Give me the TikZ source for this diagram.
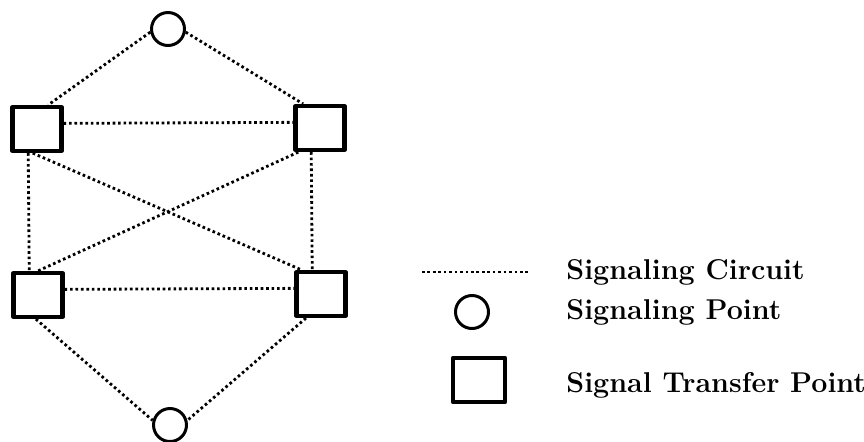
\documentclass[tikz,border=0pt]{standalone}
\begin{document}
\begin{tikzpicture}[x=0.02cm, y=-0.02cm, line join=round,
		stp/.style={draw, rectangle, line width=2.4pt, minimum width=0.98cm, minimum height=0.88cm, inner sep=0pt},
		sp/.style={draw, circle, line width=1.7pt, minimum size=0.66cm, inner sep=0pt},
		circuit/.style={line width=1.6pt, dash pattern=on 1.5pt off 1.6pt},
		lbl/.style={anchor=west, inner sep=0pt, font=\fontsize{16.3}{19}\selectfont\bfseries}]
				\useasboundingbox (0,0) rectangle (864,441);
				\node[sp] (P1) at (168,29) {};
				\node[sp] (P2) at (170,425) {};
				\node[stp] (S1) at (37,129) {};
				\node[stp] (S2) at (320,128) {};
				\node[stp] (S3) at (38,295) {};
				\node[stp] (S4) at (321,294) {};
				\draw[circuit] (P1.190)--(S1.65);
				\draw[circuit] (P1.-10)--(S2.125);
				\draw[circuit] (S1.12)--(S2.168);
				\draw[circuit] (S3.12)--(S4.168);
				\draw[circuit] (S1.-110)--(S3.110);
				\draw[circuit] (S2.-110)--(S4.110);
				\draw[circuit] (S1.-100)--(S4.129);
				\draw[circuit] (S2.-132)--(S3.90);
				\draw[circuit] (S3.-95)--(P2.165);
				\draw[circuit] (S4.-122)--(P2.15);
				\coordinate (L1) at (422,272);
				\coordinate (L2) at (528,272);
				\draw[circuit] (L1)--(L2);
				\node[sp] (P3) at (472,312) {};
				\node[stp, minimum width=1.04cm] (S5) at (479,380) {};
				\node[lbl] (T1) at (566,272) {Signaling Circuit};
				\node[lbl] (T2) at (566,312) {Signaling Point};
				\node[lbl] (T3) at (566,385) {Signal Transfer Point};
			\end{tikzpicture}
\end{document}
